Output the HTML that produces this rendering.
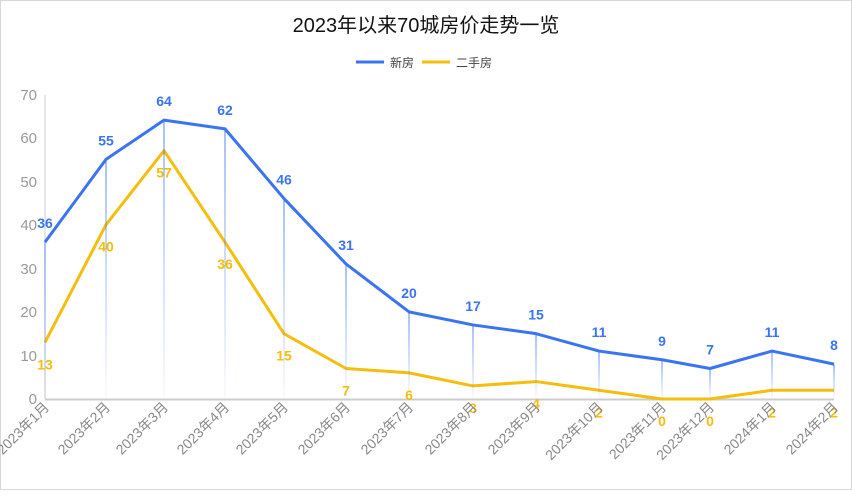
<!DOCTYPE html>
<html><head><meta charset="utf-8"><style>
body{margin:0;background:#fff;}
svg{display:block;font-family:"Liberation Sans","Noto Sans CJK SC",sans-serif;}
</style></head><body>
<svg width="852" height="500" viewBox="0 0 852 500">
<defs>
<linearGradient id="g" x1="0" y1="0" x2="0" y2="1"><stop offset="0" stop-color="#3b74f0" stop-opacity="0.9"/><stop offset="1" stop-color="#3b74f0" stop-opacity="0.05"/></linearGradient>
</defs>
<rect x="0.5" y="0.5" width="851" height="489" fill="#fff" stroke="#d8d8d8"/>
<text x="426" y="32" text-anchor="middle" font-size="20" fill="#111">2023年以来70城房价走势一览</text>
<line x1="356" y1="62" x2="384" y2="62" stroke="#3b74f0" stroke-width="3"/>
<text x="390" y="67" font-size="12" fill="#444">新房</text>
<line x1="422" y1="62" x2="450" y2="62" stroke="#f5bd0c" stroke-width="3"/>
<text x="456" y="67" font-size="12" fill="#444">二手房</text>
<line x1="45" y1="95" x2="45" y2="399" stroke="#ccc"/>
<line x1="45" y1="399.5" x2="834" y2="399.5" stroke="#ccc" stroke-width="2"/>
<g font-size="15" fill="#999" text-anchor="end">
<text x="37" y="100">70</text><text x="37" y="143">60</text><text x="37" y="187">50</text><text x="37" y="230">40</text><text x="37" y="274">30</text><text x="37" y="317">20</text><text x="37" y="361">10</text><text x="37" y="404">0</text>
</g>
<g id="c"></g>
</svg>
<script>
var xs=[45,106,164,225,284,346,409,473,536,599,662,710,772,834];
var a=[36,55,64,62,46,31,20,17,15,11,9,7,11,8];
var b=[13,40,57,36,15,7,6,3,4,2,0,0,2,2];
var lab=["2023年1月","2023年2月","2023年3月","2023年4月","2023年5月","2023年6月","2023年7月","2023年8月","2023年9月","2023年10月","2023年11月","2023年12月","2024年1月","2024年2月"];
function y(v){return 399-v*4.357;}
var s='',pa='',pb='';
for(var i=0;i<14;i++){
s+='<rect x="'+(xs[i]-0.5)+'" y="'+y(a[i])+'" width="1" height="'+(399-y(a[i]))+'" fill="url(#g)"/>';
pa+=(i?'L':'M')+xs[i]+' '+y(a[i]);pb+=(i?'L':'M')+xs[i]+' '+y(b[i]);
s+='<text x="'+xs[i]+'" y="'+(y(a[i])-14)+'" text-anchor="middle" font-size="14" font-weight="bold" fill="#3b74f0">'+a[i]+'</text>';
s+='<text x="'+xs[i]+'" y="'+(y(b[i])+27)+'" text-anchor="middle" font-size="14" font-weight="bold" fill="#f5bd0c">'+b[i]+'</text>';
s+='<text transform="translate('+(xs[i]+5)+',408) rotate(-45)" text-anchor="end" font-size="14" fill="#888">'+lab[i]+'</text>';
}
s='<path d="'+pb+'" fill="none" stroke="#f5bd0c" stroke-width="3" stroke-linejoin="round"/><path d="'+pa+'" fill="none" stroke="#3b74f0" stroke-width="3" stroke-linejoin="round"/>'+s;
document.getElementById('c').innerHTML=s;
</script>
</body></html>
